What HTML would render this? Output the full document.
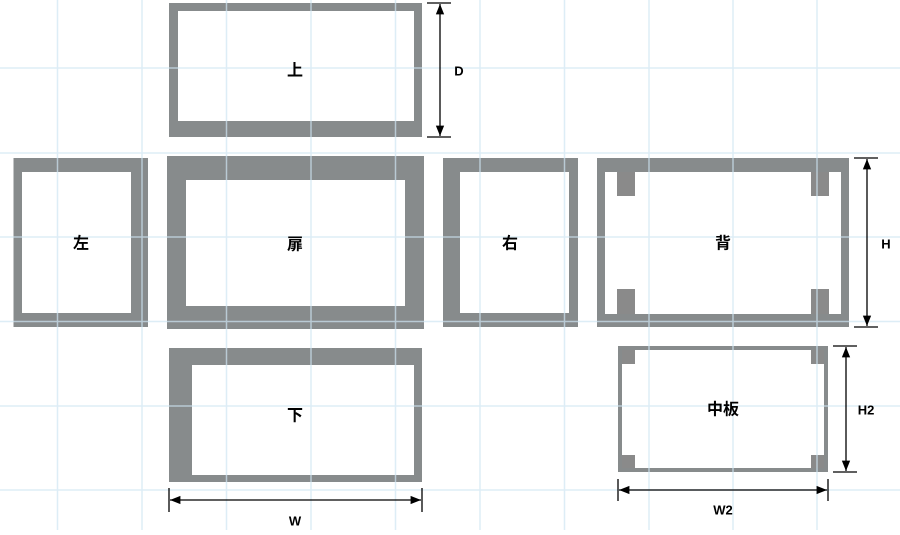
<!DOCTYPE html>
<html><head><meta charset="utf-8"><style>
html,body{margin:0;padding:0;background:#fff;width:900px;height:535px;overflow:hidden}
text{font-family:"Liberation Sans","Noto Sans CJK JP",sans-serif;font-weight:bold;fill:#000}
</style></head><body>
<svg width="900" height="535" viewBox="0 0 900 535" xmlns="http://www.w3.org/2000/svg">
<defs>
<marker id="a" viewBox="0 0 10 10" refX="10" refY="5" markerWidth="8" markerHeight="8" orient="auto-start-reverse"><path d="M0,1 L10,5 L0,9z" fill="#000"/></marker>
</defs>
<g fill="#878b8c" fill-rule="evenodd">
<path d="M169,3H422V137H169Z M178,11V121H414V11Z"/>
<path d="M13.5,158H148V327H13.5Z M22,172V313H131V172Z"/>
<path d="M167,156H424V329H167Z M186,180V306H405V180Z"/>
<path d="M443,158H578V327H443Z M460,172V313H569V172Z"/>
<path d="M597,158H849V327H597Z M605,172V314H841V172Z"/>
<path d="M169,348H422V482H169Z M192,365V475H414V365Z"/>
<path d="M618,346H828V472H618Z M622,350V468H824V350Z"/>
</g>
<g fill="#8a8a8a">
<rect x="617" y="172" width="18" height="24"/><rect x="811" y="172" width="18" height="24"/>
<rect x="617" y="289" width="18" height="25"/><rect x="811" y="289" width="18" height="25"/>
<rect x="622" y="350" width="13" height="14"/><rect x="811" y="350" width="13" height="14"/>
<rect x="622" y="455" width="13" height="13"/><rect x="811" y="455" width="13" height="13"/>
</g>
<g stroke="#cfe6f3" stroke-width="1.5" opacity="0.7">
<line x1="57.5" y1="0" x2="57.5" y2="530"/><line x1="142" y1="0" x2="142" y2="530"/>
<line x1="226.5" y1="0" x2="226.5" y2="530"/><line x1="311" y1="0" x2="311" y2="530"/>
<line x1="395.5" y1="0" x2="395.5" y2="530"/><line x1="480" y1="0" x2="480" y2="530"/>
<line x1="564.5" y1="0" x2="564.5" y2="530"/><line x1="649" y1="0" x2="649" y2="530"/>
<line x1="733" y1="0" x2="733" y2="530"/><line x1="817" y1="0" x2="817" y2="530"/>
<line x1="0" y1="68" x2="900" y2="68"/><line x1="0" y1="153" x2="900" y2="153"/>
<line x1="0" y1="237" x2="900" y2="237"/><line x1="0" y1="321.5" x2="900" y2="321.5"/>
<line x1="0" y1="406" x2="900" y2="406"/><line x1="0" y1="490" x2="900" y2="490"/>
</g>
<g stroke="#000" stroke-width="1.3" fill="none">
<line x1="427" y1="3" x2="451" y2="3"/><line x1="427" y1="137" x2="451" y2="137"/>
<line x1="440" y1="4" x2="440" y2="136" marker-start="url(#a)" marker-end="url(#a)"/>
<line x1="854" y1="158" x2="878" y2="158"/><line x1="854" y1="327" x2="878" y2="327"/>
<line x1="867" y1="159" x2="867" y2="326" marker-start="url(#a)" marker-end="url(#a)"/>
<line x1="833" y1="346" x2="857" y2="346"/><line x1="833" y1="472" x2="857" y2="472"/>
<line x1="846" y1="347" x2="846" y2="471" marker-start="url(#a)" marker-end="url(#a)"/>
<line x1="618" y1="479" x2="618" y2="501"/><line x1="828" y1="479" x2="828" y2="501"/>
<line x1="619" y1="490" x2="827" y2="490" marker-start="url(#a)" marker-end="url(#a)"/>
<line x1="169" y1="488" x2="169" y2="512"/><line x1="422" y1="488" x2="422" y2="512"/>
<line x1="170" y1="500" x2="421" y2="500" marker-start="url(#a)" marker-end="url(#a)"/>
</g>
<g font-size="16" text-anchor="middle" dominant-baseline="central">
<text x="295" y="71">上</text>
<text x="81" y="244">左</text>
<text x="295" y="245">扉</text>
<text x="510" y="244">右</text>
<text x="723" y="244">背</text>
<text x="295" y="416">下</text>
<text x="723" y="410">中板</text>
</g>
<g font-size="13" text-anchor="middle" dominant-baseline="central">
<text x="459" y="71">D</text>
<text x="886" y="244">H</text>
<text x="866" y="410">H2</text>
<text x="723" y="510">W2</text>
<text x="295" y="521">W</text>
</g>
</svg>
</body></html>
